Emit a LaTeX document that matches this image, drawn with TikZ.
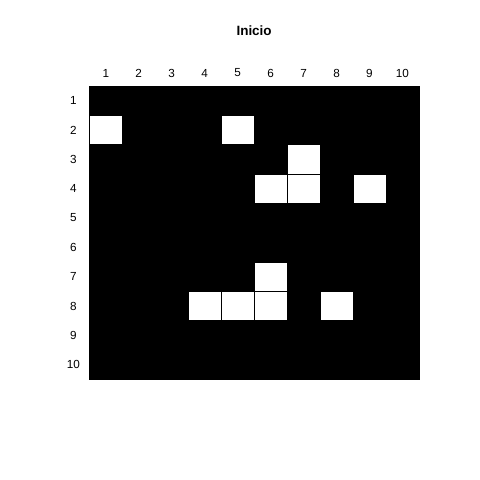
\documentclass[tikz,border=0pt]{standalone}
\usepackage{fontspec}
\setmainfont{Liberation Sans}
\begin{document}
\begin{tikzpicture}[x=0.989cm,y=-0.88cm]
\useasboundingbox (-2.709,-2.932) rectangle (11.850,13.433);
\fill[color=black] (0,0) rectangle (10,10);
\foreach \r/\c in {2/1,2/5,3/7,4/6,4/7,4/9,7/6,8/4,8/5,8/6,8/8}
  \fill[color=white] (\c-1,\r-1) rectangle (\c,\r);
\foreach \k in {0,...,10} {
  \draw[line width=0.6pt,line cap=rect] (\k,0) -- (\k,10);
  \draw[line width=0.6pt,line cap=rect] (0,\k) -- (10,\k);
}

\node[font=\bfseries\fontsize{11.5}{13}\selectfont] (title) at (5,-1.875) {Inicio};
\foreach \i in {1,...,10} {
  \node[font=\fontsize{10}{12}\selectfont] (col\i) at (\i-0.5,-0.443) {\i};
  \node[font=\fontsize{10}{12}\selectfont] (row\i) at (-0.485,\i-0.5) {\i};
}
\end{tikzpicture}
\end{document}
